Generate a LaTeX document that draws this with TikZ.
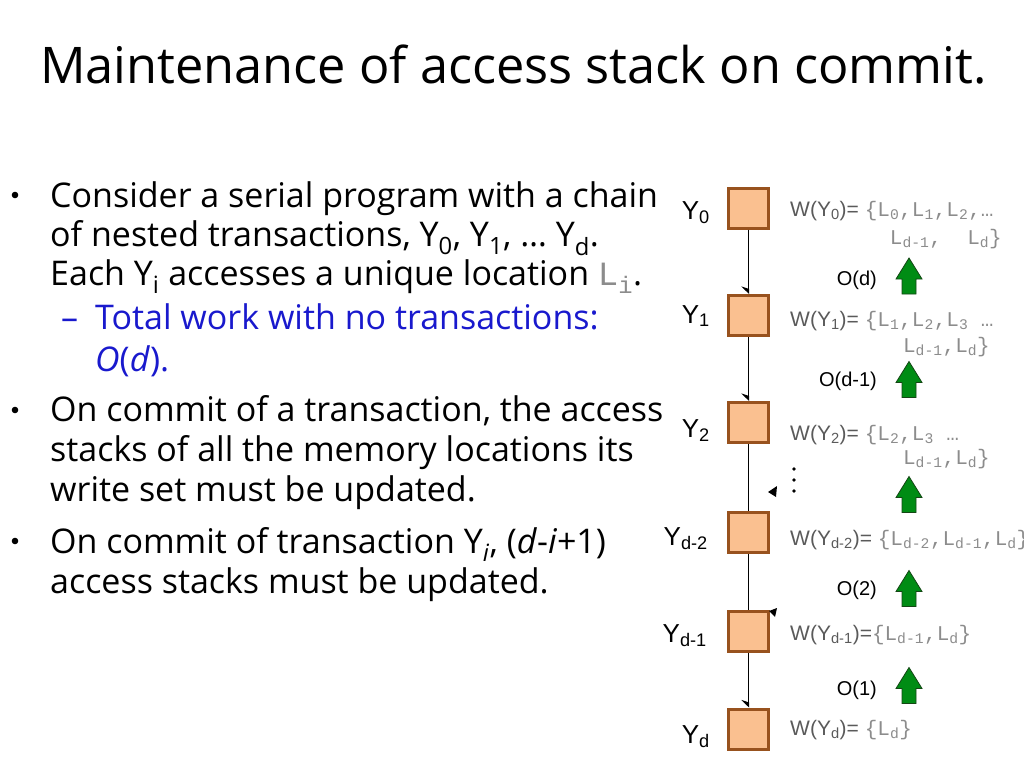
\documentclass[tikz,border=0pt]{standalone}
\usepackage{fontspec}
\setmainfont{Open Sans}
\newfontfamily\arialf{Liberation Sans}
\newfontfamily\courf{Liberation Mono}
\usetikzlibrary{arrows.meta}

\definecolor{boxfill}{RGB}{250,192,144}
\definecolor{boxedge}{RGB}{152,82,30}
\definecolor{arrgreen}{RGB}{0,140,20}
\definecolor{arredge}{RGB}{20,70,20}
\definecolor{wgray}{RGB}{90,90,90}
\definecolor{lgray}{RGB}{140,140,140}
\definecolor{ptblue}{RGB}{25,25,205}

% locations in Courier, light gray
\newcommand{\locs}[1]{{\courf\color{lgray}#1}}

\tikzset{
    txbox/.style={draw=boxedge, fill=boxfill, line width=3pt, minimum size=40pt, inner sep=0pt},
    ylabel/.style={anchor=base east, inner sep=0pt, font=\arialf\fontsize{26}{30}\selectfont},
    wlabel/.style={anchor=base west, inner sep=0pt, text=wgray, font=\arialf\fontsize{21}{25}\selectfont},
    wcont/.style={wlabel, anchor=base east},
    olabel/.style={anchor=base east, inner sep=0pt, font=\arialf\fontsize{20}{24}\selectfont},
    bodytext/.style={anchor=base west, inner sep=0pt, font=\fontsize{34}{40}\selectfont},
    link/.style={line width=1pt, -{Stealth[right,length=7pt,width=14pt]}},
    grarrow/.pic={
        \filldraw[fill=arrgreen, draw=arredge, line width=0.8pt]
            (-7,18) -- (-7,3) -- (-13,3) -- (0,-18) -- (13,3) -- (7,3) -- (7,18) -- cycle;
    }
}

\begin{document}
\begin{tikzpicture}[x=1pt, y=-1pt]
    \useasboundingbox (0,0) rectangle (1024,768);

    % Title
    \node[anchor=base west, inner sep=0pt, font=\fontsize{50.5}{58}\selectfont] (title) at (40,83)
        {Maintenance of access stack on commit.};

    % Bullets
    \foreach \y in {195,410,541} {
        \fill (15,\y) circle (3.3pt);
    }
    \node[bodytext] (l1) at (50,207) {Consider a serial program with a chain};
    \node[bodytext] (l2) at (50,246) {of nested transactions, Y\textsubscript{0}, Y\textsubscript{1}, \dots{} Y\textsubscript{d}.};
    \node[bodytext] (l3) at (50,285) {Each Y\textsubscript{i} accesses a unique location \locs{L\textsubscript{i}}.};
    \node[bodytext, text=ptblue] (dash) at (61,329) {--};
    \node[bodytext, text=ptblue] (l4) at (95,329) {Total work with no transactions:};
    \node[bodytext, text=ptblue] (l5) at (95,371) {\textit{O}(\textit{d}).};
    \node[bodytext] (l6) at (50,421) {On commit of a transaction, the access};
    \node[bodytext] (l7) at (50,461) {stacks of all the memory locations its};
    \node[bodytext] (l8) at (50,501) {write set must be updated.};
    \node[bodytext] (l9) at (50,553) {On commit of transaction Y\textsubscript{\textit{i}}, (\textit{d}-\textit{i}+1)};
    \node[bodytext] (l10) at (50,593) {access stacks must be updated.};

    % Chain of nested transactions
    \node[txbox] (y0) at (748.5,208) {};
    \node[txbox] (y1) at (748.5,315.5) {};
    \node[txbox] (y2) at (748.5,422.5) {};
    \node[txbox] (yd2) at (748.5,532.5) {};
    \node[txbox] (yd1) at (748.5,631) {};
    \node[txbox] (yd) at (748.5,729) {};

    \node[ylabel] (ly0) at (710,219) {Y\textsubscript{0}};
    \node[ylabel] (ly1) at (710,323) {Y\textsubscript{1}};
    \node[ylabel] (ly2) at (710,437) {Y\textsubscript{2}};
    \node[ylabel] (lyd2) at (708,545) {Y\textsubscript{d-2}};
    \node[ylabel] (lyd1) at (707,642) {Y\textsubscript{d-1}};
    \node[ylabel] (lyd) at (710,743) {Y\textsubscript{d}};

    \draw[link] (y0) -- (y1);
    \draw[link] (y1) -- (y2);
    \draw[line width=1pt] (y2) -- (yd2);
    \draw[line width=1pt] (yd2) -- (yd1);
    \draw[link] (yd1) -- (yd);

    % stray tips
    \fill (768,492) -- (777,486) -- (776,497) -- cycle;
    \fill (777,608) -- (769,611) -- (775,617) -- cycle;

    % vertical dots
    \foreach \y in {469,480,491} {
        \fill (794,\y) circle (1.8pt);
    }

    % Write sets
    \node[wlabel] (w0) at (790,216) {W(Y\textsubscript{0})= \locs{\{L\textsubscript{0},L\textsubscript{1},L\textsubscript{2},\dots}};
    \node[wcont] (w0b) at (1002,244) {\locs{L\textsubscript{d-1},~ L\textsubscript{d}\}}};
    \node[wlabel] (w1) at (790,326) {W(Y\textsubscript{1})= \locs{\{L\textsubscript{1},L\textsubscript{2},L\textsubscript{3} \dots}};
    \node[wcont] (w1b) at (990,352) {\locs{L\textsubscript{d-1},L\textsubscript{d}\}}};
    \node[wlabel] (w2) at (790,440) {W(Y\textsubscript{2})= \locs{\{L\textsubscript{2},L\textsubscript{3} \dots}};
    \node[wcont] (w2b) at (990,464) {\locs{L\textsubscript{d-1},L\textsubscript{d}\}}};
    \node[wlabel] (wd2) at (790,545) {W(Y\textsubscript{d-2})= \locs{\{L\textsubscript{d-2},L\textsubscript{d-1},L\textsubscript{d}\}}};
    \node[wlabel] (wd1) at (790,640) {W(Y\textsubscript{d-1})=\locs{\{L\textsubscript{d-1},L\textsubscript{d}\}}};
    \node[wlabel] (wd) at (790,735) {W(Y\textsubscript{d})= \locs{\{L\textsubscript{d}\}}};

    % Cost of each commit
    \pic (aod) at (909,276) {grarrow};
    \pic (aod1) at (909,379.5) {grarrow};
    \pic (adots) at (909,494.5) {grarrow};
    \pic (ao2) at (909,588.5) {grarrow};
    \pic (ao1) at (909,685.5) {grarrow};
    \node[olabel] (od) at (877,285) {O(d)};
    \node[olabel] (od1) at (877,386) {O(d-1)};
    \node[olabel] (o2) at (877,595) {O(2)};
    \node[olabel] (o1) at (877,695) {O(1)};
\end{tikzpicture}
\end{document}
